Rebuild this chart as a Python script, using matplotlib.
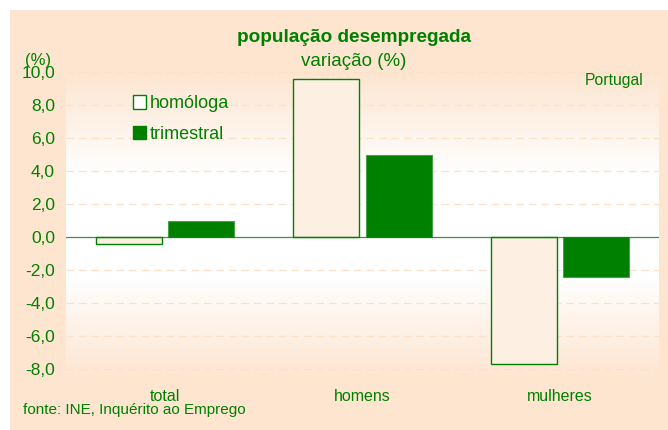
import numpy as np
import matplotlib
matplotlib.use("Agg")
import matplotlib.pyplot as plt
from matplotlib.colors import LinearSegmentedColormap
from matplotlib.patches import Patch, Rectangle

categories = ["total", "homens", "mulheres"]
homologa = [-0.4, 9.6, -7.7]
trimestral = [1.0, 5.0, -2.4]
yticks = [-8, -6, -4, -2, 0, 2, 4, 6, 8, 10]

green = "#008000"
peach = "#fde5d0"
light_bar = "#fdf0e3"

plt.rcParams["font.family"] = ["Liberation Sans", "DejaVu Sans"]

fig = plt.figure(figsize=(6.68, 4.30), dpi=100)
fig.patch.set_facecolor("white")
fig.patches.append(Rectangle((10 / 668, 0), 1, 1 - 10 / 430, transform=fig.transFigure,
                             facecolor=peach, edgecolor="none", zorder=-10))

ax = fig.add_axes([66 / 668, 1 - 379 / 430, 593 / 668, 307 / 430])
ax.set_facecolor("none")
ymin, ymax = -8.6, 10

# gradient background: peach at top and bottom, white near zero
cmap = LinearSegmentedColormap.from_list("bg", [peach, "white", "white", peach])
grad = np.linspace(0, 1, 256).reshape(-1, 1)
ax.imshow(grad, aspect="auto", cmap=cmap, extent=[-0.5, 2.5, ymin, ymax],
          origin="upper", zorder=0)

for y in yticks:
    if y != 0:
        ax.axhline(y, color="#fde0c6", lw=0.9, ls=(0, (6, 4)), zorder=1)
ax.axhline(0, color=green, lw=0.9, alpha=0.8, zorder=3)

x = np.arange(len(categories))
w = 0.335
off = 0.183
ax.bar(x - off, homologa, w, color=light_bar, edgecolor=green, lw=1.0, zorder=2)
ax.bar(x + off, trimestral, w, color=green, edgecolor="#4aa04a", lw=0.8, zorder=2)

ax.set_xlim(-0.5, 2.5)
ax.set_ylim(ymin, ymax)
ax.set_yticks(yticks)
ax.yaxis.set_major_formatter(matplotlib.ticker.FuncFormatter(lambda v, p: ("%.1f" % v).replace(".", ",")))
ax.set_xticks(x)
ax.set_xticklabels(categories)
ax.tick_params(axis="both", length=0, colors=green)
ax.tick_params(axis="y", pad=8, labelsize=12.5)
ax.tick_params(axis="x", pad=7, labelsize=11.5)
for s in ax.spines.values():
    s.set_visible(False)

handles = [Patch(facecolor="white", edgecolor=green, lw=1.0),
           Patch(facecolor=green, edgecolor=green)]
leg = ax.legend(handles, ["homóloga", "trimestral"], loc="upper left",
                bbox_to_anchor=(0.1, 0.948), frameon=False, fontsize=13,
                handlelength=0.75, handleheight=0.75, handletextpad=0.2,
                labelspacing=0.75, borderaxespad=0)
for t in leg.get_texts():
    t.set_color(green)

fig.text(354 / 668, 1 - 37 / 430, "população desempregada", color=green,
         fontsize=13.7, fontweight="bold", ha="center", va="center")
fig.text(354 / 668, 1 - 62 / 430, "variação (%)", color=green,
         fontsize=13.5, ha="center", va="center")
fig.text(38 / 668, 1 - 60 / 430, "(%)", color=green, fontsize=12,
         ha="center", va="center")
fig.text(614 / 668, 1 - 81 / 430, "Portugal", color=green, fontsize=11.3,
         ha="center", va="center")
fig.text(23 / 668, 1 - 410 / 430, "fonte: INE, Inquérito ao Emprego",
         color=green, fontsize=11, ha="left", va="center")

fig.savefig("out.png", dpi=100, facecolor=fig.get_facecolor())
